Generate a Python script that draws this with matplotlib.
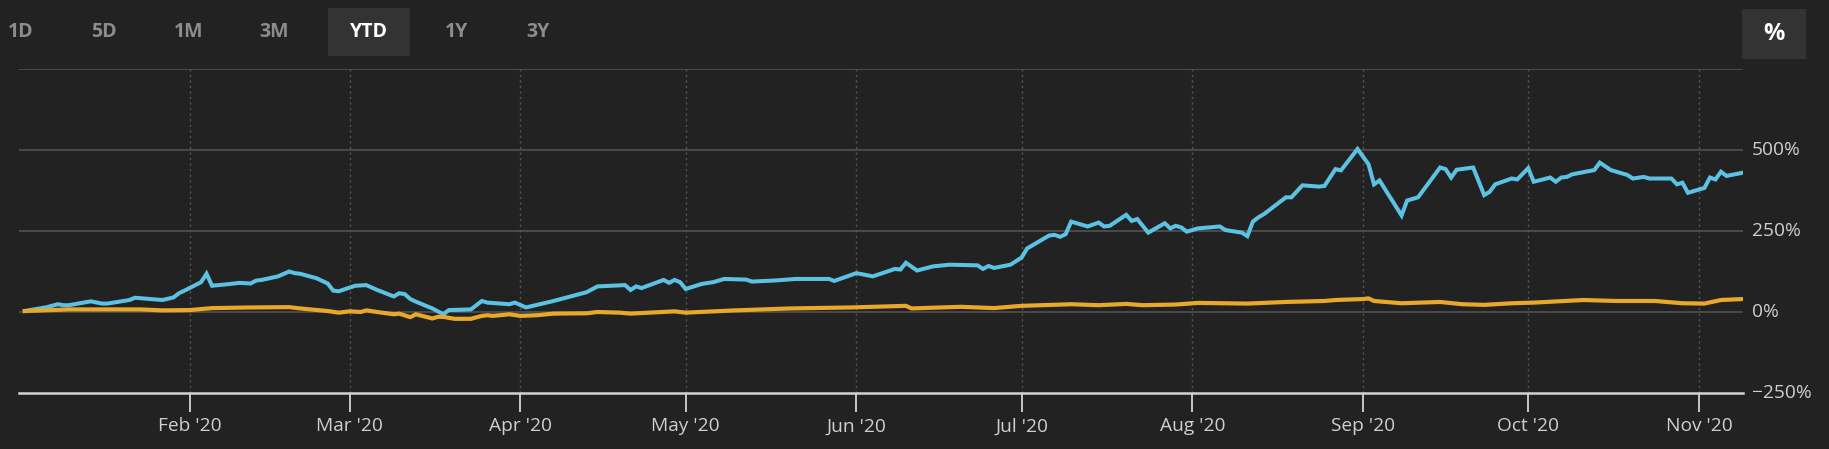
import matplotlib
matplotlib.use("Agg")
import matplotlib.pyplot as plt
from matplotlib.patches import Rectangle
import pandas as pd

plt.rcParams['font.family'] = ['Open Sans', 'DejaVu Sans']

# ---------------- data ----------------
blue_dates = ["2020-01-02","2020-01-06","2020-01-08","2020-01-09","2020-01-10","2020-01-14","2020-01-16","2020-01-17","2020-01-21","2020-01-22","2020-01-27","2020-01-29","2020-01-30","2020-01-31",
              "2020-02-03","2020-02-04","2020-02-05","2020-02-08","2020-02-10","2020-02-12","2020-02-13","2020-02-14","2020-02-17","2020-02-19","2020-02-20","2020-02-21","2020-02-24","2020-02-26","2020-02-27","2020-02-28",
              "2020-03-02","2020-03-04","2020-03-06","2020-03-09","2020-03-10","2020-03-11","2020-03-12","2020-03-13","2020-03-16","2020-03-18","2020-03-19","2020-03-23","2020-03-25","2020-03-26","2020-03-30","2020-03-31",
              "2020-04-02","2020-04-04","2020-04-07","2020-04-13","2020-04-15","2020-04-20","2020-04-21","2020-04-22","2020-04-23","2020-04-27","2020-04-28","2020-04-29","2020-04-30",
              "2020-05-01","2020-05-04","2020-05-06","2020-05-08","2020-05-12","2020-05-13","2020-05-17","2020-05-21","2020-05-27","2020-05-28",
              "2020-06-01","2020-06-04","2020-06-08","2020-06-09","2020-06-10","2020-06-12","2020-06-15","2020-06-18","2020-06-23","2020-06-24","2020-06-25","2020-06-26","2020-06-29",
              "2020-07-01","2020-07-02","2020-07-06","2020-07-07","2020-07-08","2020-07-09","2020-07-10","2020-07-13","2020-07-15","2020-07-16","2020-07-17","2020-07-20","2020-07-21","2020-07-22","2020-07-24","2020-07-27","2020-07-28","2020-07-29","2020-07-30","2020-07-31",
              "2020-08-02","2020-08-06","2020-08-07","2020-08-10","2020-08-11","2020-08-12","2020-08-13","2020-08-14","2020-08-18","2020-08-19","2020-08-21","2020-08-24","2020-08-25","2020-08-27","2020-08-28","2020-08-31",
              "2020-09-02","2020-09-03","2020-09-04","2020-09-08","2020-09-09","2020-09-11","2020-09-15","2020-09-16","2020-09-17","2020-09-18","2020-09-21","2020-09-23","2020-09-24","2020-09-25","2020-09-28","2020-09-29",
              "2020-10-01","2020-10-02","2020-10-05","2020-10-06","2020-10-07","2020-10-08","2020-10-09","2020-10-13","2020-10-14","2020-10-16","2020-10-19","2020-10-20","2020-10-22","2020-10-23","2020-10-27","2020-10-28","2020-10-29","2020-10-30",
              "2020-11-02","2020-11-03","2020-11-04","2020-11-05","2020-11-06","2020-11-09"]
blue_values = [3,15,24,21,21,33,26,26,37,44,37,45,58,66,
               92,118,81,86,90,88,97,99,110,125,120,118,104,88,66,64,
               81,83,68,48,58,55,40,32,11,-7,6,8,34,29,24,29,
               14,22,34,61,79,83,68,79,74,99,90,99,92,
               71,87,92,102,100,94,97,102,102,96,
               120,110,133,131,152,128,141,146,144,133,142,136,146,
               168,196,236,238,232,240,279,264,276,264,266,300,281,287,245,274,258,266,261,248,
               258,264,253,245,234,279,292,302,354,354,391,387,389,441,437,503,
               456,394,406,298,344,354,446,441,415,439,446,361,371,394,412,409,
               444,402,415,402,415,417,425,438,461,438,423,412,417,412,412,394,399,368,
               383,415,409,433,420,430]

yellow_dates = ["2020-01-02","2020-01-10","2020-01-23","2020-01-27",
                "2020-02-01","2020-02-05","2020-02-12","2020-02-19","2020-02-21","2020-02-26","2020-02-28",
                "2020-03-01","2020-03-03","2020-03-04","2020-03-06","2020-03-09","2020-03-10","2020-03-12","2020-03-13","2020-03-16","2020-03-17","2020-03-18","2020-03-20","2020-03-23","2020-03-25","2020-03-26","2020-03-27","2020-03-30",
                "2020-04-01","2020-04-04","2020-04-07","2020-04-13","2020-04-15","2020-04-19","2020-04-21","2020-04-29",
                "2020-05-01","2020-05-10","2020-05-20","2020-05-31",
                "2020-06-10","2020-06-11","2020-06-20","2020-06-26",
                "2020-07-01","2020-07-10","2020-07-15","2020-07-20","2020-07-23","2020-07-29",
                "2020-08-02","2020-08-11","2020-08-18","2020-08-25","2020-08-27",
                "2020-09-01","2020-09-02","2020-09-03","2020-09-08","2020-09-15","2020-09-19","2020-09-23","2020-09-28",
                "2020-10-02","2020-10-11","2020-10-17","2020-10-24","2020-10-29",
                "2020-11-02","2020-11-05","2020-11-09"]
yellow_values = [3,8,8,5,
                 6,12,14,15,11,3,-2,
                 2,0,5,0,-7,-5,-16,-7,-20,-15,-15,-21,-21,-12,-10,-12,-7,
                 -12,-10,-5,-4,0,-2,-5,2,
                 -2,5,11,14,
                 19,11,16,12,
                 19,24,21,25,21,23,
                 28,26,31,34,37,
                 40,42,34,27,31,24,22,27,
                 29,37,34,34,27,
                 26,37,40]

month_ticks = ["2020-02-01","2020-03-01","2020-04-01","2020-05-01","2020-06-01",
               "2020-07-01","2020-08-01","2020-09-01","2020-10-01","2020-11-01"]
month_labels = ["Feb '20","Mar '20","Apr '20","May '20","Jun '20",
                "Jul '20","Aug '20","Sep '20","Oct '20","Nov '20"]
grid_levels = [750, 500, 250, 0]
y_ticks = [500, 250, 0, -250]
y_labels = ["500%", "250%", "0%", "\u2212250%"]
range_buttons = ["1D", "5D", "1M", "3M", "YTD", "1Y", "3Y"]
active_button = "YTD"

# ---------------- style / layout ----------------
W, H = 1829, 449
BG = "#222222"
BLUE = "#5bc2e4"
GOLD = "#e8a92a"
button_x = [21, 104, 189, 274, 369, 457, 538]

fig = plt.figure(figsize=(W / 100, H / 100), dpi=100, facecolor=BG)

def fx(px):
    return px / W

def fy(py):
    return 1 - py / H

ax_left, ax_right, ax_top, ax_bottom = 19.3, 1743.0, 69.0, 393.0
ax = fig.add_axes([fx(ax_left), fy(ax_bottom), fx(ax_right - ax_left), (ax_bottom - ax_top) / H])
ax.set_facecolor(BG)

bd = pd.to_datetime(blue_dates)
yd = pd.to_datetime(yellow_dates)
ax.plot(bd, blue_values, color=BLUE, lw=2.9, solid_joinstyle='miter', zorder=3)
ax.plot(yd, yellow_values, color=GOLD, lw=3.0, zorder=4)

ax.set_xlim(pd.Timestamp("2020-01-01"), pd.Timestamp("2020-11-09"))
ax.set_ylim(-250, 750)

for lv in grid_levels:
    ax.axhline(lv, color="#4b4b4b", lw=1.4, zorder=1)

ticks = pd.to_datetime(month_ticks)
for t in ticks:
    ax.axvline(t, color="#575757", lw=1.0, linestyle=(0, (1.5, 2.5)), zorder=1)

ax.set_xticks(ticks)
ax.set_xticklabels(month_labels)
ax.tick_params(axis='x', length=13.5, width=1.3, color="#d0d4d8", pad=4,
               labelsize=13.8, labelcolor="#cfcfcf")
ax.set_yticks([])
for s in ["left", "right", "top"]:
    ax.spines[s].set_visible(False)
ax.spines["bottom"].set_color("#d0d4d8")
ax.spines["bottom"].set_linewidth(1.8)

trans = ax.get_yaxis_transform()
for v, lab in zip(y_ticks, y_labels):
    ax.text(1.0 + 9 / (ax_right - ax_left), v, lab, transform=trans,
            ha='left', va='center', fontsize=13.8, color="#cfcfcf", clip_on=False)

# range selector buttons
for name, x in zip(range_buttons, button_x):
    if name == active_button:
        fig.patches.append(Rectangle((fx(328), fy(56)), fx(410 - 328), (56 - 8) / H,
                                     transform=fig.transFigure, facecolor="#333333",
                                     edgecolor="none", zorder=0))
        fig.text(fx(x), fy(32), name, ha='center', va='center', fontsize=14,
                 fontweight='bold', color="#ffffff")
    else:
        fig.text(fx(x), fy(32), name, ha='center', va='center', fontsize=14,
                 fontweight='bold', color="#8c8c8c")

# percent toggle
fig.patches.append(Rectangle((fx(1742), fy(59)), fx(1806 - 1742), (59 - 9) / H,
                             transform=fig.transFigure, facecolor="#333333",
                             edgecolor="none", zorder=0))
fig.text(fx(1774), fy(34), "%", ha='center', va='center', fontsize=17,
         fontweight='bold', color="#ffffff")

fig.savefig("out.png", dpi=100, facecolor=BG)
